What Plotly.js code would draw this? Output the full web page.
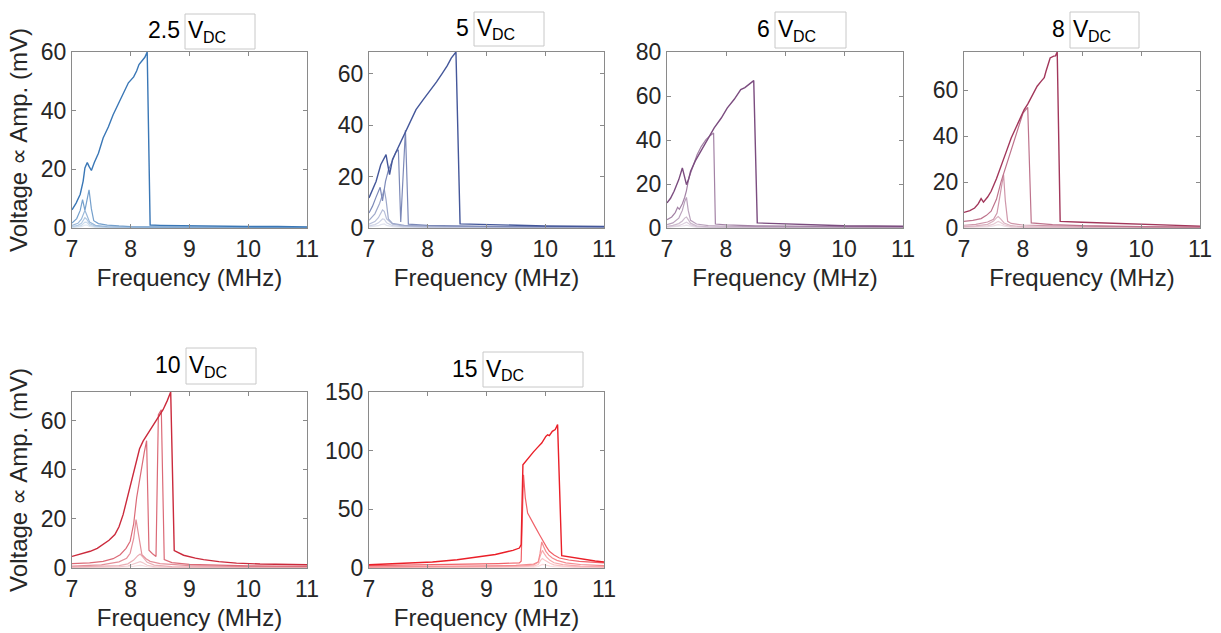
<!DOCTYPE html>
<html>
<head>
<meta charset="utf-8">
<script src="https://cdn.plot.ly/plotly-3.0.1.min.js"></script>
<style>html,body{margin:0;padding:0;background:#fff;}#chart{width:1221px;height:633px;}</style>
</head>
<body>
<div id="chart"></div>
<script>
// ---------- Data ----------
const panelLabels = ["2.5", "5", "6", "8", "10", "15"];
const unitMain = "V";
const unitSub = "DC";
const xTicks = [7, 8, 9, 10, 11];
const yTicks1 = [0, 20, 40, 60];
const yTicks3 = [0, 20, 40, 60, 80];
const yTicks6 = [0, 50, 100, 150];
const yMax = [60, 68.4, 80, 76.7, 71.6, 150];

// 2.5 V_DC
const f25_1 = [7.0, 7.07, 7.14, 7.19, 7.22, 7.26, 7.29, 7.33, 7.38, 7.45, 7.53, 7.62, 7.7, 7.8, 7.88, 7.96, 8.05, 8.1, 8.14, 8.19, 8.24, 8.28, 8.33, 8.5, 9.0, 9.5, 10.0, 10.5, 11.0];
const v25_1 = [6.2, 8.5, 11.5, 16, 20.5, 22.3, 21, 19.6, 22.3, 25.5, 30.7, 34.5, 38.6, 42.8, 46.6, 49.5, 51.5, 53.5, 55.7, 56.8, 58.2, 60, 1.0, 0.9, 0.7, 0.6, 0.5, 0.5, 0.4];
const f25_2 = [7.0, 7.08, 7.14, 7.18, 7.22, 7.26, 7.29, 7.33, 7.37, 7.45, 7.6, 7.8, 8.0, 8.5, 9, 10, 11];
const v25_2 = [1.7, 3.2, 6.0, 9.7, 6.0, 9.5, 13.0, 6.5, 2.5, 1.5, 1.0, 0.7, 0.5, 0.4, 0.3, 0.25, 0.2];
const f25_s = [7.0, 7.1, 7.16, 7.2, 7.22, 7.25, 7.3, 7.4, 7.6, 8.0, 9, 11];
const v25_3 = [0.9, 1.6, 3.0, 5.2, 6.0, 4.5, 2.0, 0.9, 0.5, 0.3, 0.2, 0.15];
const v25_4 = [0.5, 0.9, 1.6, 2.8, 3.5, 3.0, 1.4, 0.6, 0.3, 0.2, 0.15, 0.1];
const v25_5 = [0.3, 0.5, 0.9, 1.5, 2.0, 1.9, 0.9, 0.4, 0.2, 0.1, 0.1, 0.1];
const v25_6 = [0.15, 0.25, 0.45, 0.8, 1.0, 1.0, 0.5, 0.2, 0.1, 0.05, 0.05, 0.05];

// 5 V_DC
const f5_1 = [7.0, 7.06, 7.12, 7.2, 7.25, 7.29, 7.32, 7.35, 7.4, 7.46, 7.52, 7.63, 7.72, 7.8, 7.92, 8.03, 8.15, 8.25, 8.33, 8.4, 8.45, 8.48, 8.55, 9.0, 9.5, 10, 10.5, 11];
const v5_1 = [11.7, 14.8, 18.1, 24.6, 27, 28.5, 24.5, 20.7, 26.6, 29.5, 32.4, 38.2, 42.3, 46, 49.8, 53.1, 56.8, 60.2, 63, 66, 67.3, 68.4, 1.6, 1.3, 1.0, 0.8, 0.7, 0.6];
const f5_2 = [7.0, 7.06, 7.12, 7.19, 7.23, 7.28, 7.33, 7.4, 7.46, 7.5, 7.54, 7.58, 7.62, 7.67, 7.8, 8.0, 8.5, 9, 10, 11];
const v5_2 = [5.8, 8.5, 12, 15.8, 10.5, 18, 22.5, 26.5, 29.5, 30.4, 2.3, 20, 38, 1.5, 1.2, 1.0, 0.8, 0.6, 0.5, 0.4];
const f5_3 = [7.0, 7.1, 7.18, 7.23, 7.26, 7.29, 7.33, 7.4, 7.6, 8.0, 9, 11];
const v5_3 = [3.0, 5.5, 9.5, 12.5, 15, 11, 3.5, 1.8, 1.0, 0.7, 0.5, 0.4];
const f5_s = [7.0, 7.1, 7.16, 7.2, 7.23, 7.26, 7.3, 7.4, 7.6, 8.0, 9, 11];
const v5_4 = [1.5, 2.5, 4.0, 5.8, 7.0, 6.5, 3.5, 1.5, 0.7, 0.4, 0.3, 0.2];
const v5_5 = [0.8, 1.3, 2.0, 2.8, 3.5, 3.4, 2.0, 0.9, 0.4, 0.2, 0.15, 0.1];
const v5_6 = [0.4, 0.6, 0.9, 1.3, 1.6, 1.6, 1.0, 0.5, 0.2, 0.1, 0.1, 0.1];

// 6 V_DC
const f6_1 = [7.0, 7.06, 7.12, 7.2, 7.26, 7.3, 7.33, 7.37, 7.4, 7.48, 7.57, 7.68, 7.8, 7.92, 8.02, 8.14, 8.25, 8.32, 8.39, 8.47, 8.53, 9.0, 9.5, 10, 10.5, 11];
const v6_1 = [11.4, 13.5, 16.7, 22, 27.3, 23.5, 19.7, 22.5, 25.8, 30.5, 34.8, 40.2, 45.5, 50, 54.5, 58.5, 62.9, 63.8, 65.2, 67, 2.3, 1.8, 1.4, 1.0, 0.9, 0.8];
const f6_2 = [7.0, 7.08, 7.14, 7.18, 7.21, 7.26, 7.3, 7.33, 7.37, 7.44, 7.51, 7.58, 7.66, 7.74, 7.79, 7.82, 8.0, 8.5, 9.0, 10, 11];
const v6_2 = [3.8, 5.0, 7.0, 9.4, 8.5, 11, 14, 17, 22.7, 28.5, 33.3, 37, 40.2, 42.2, 43.2, 1.8, 1.4, 1.0, 0.8, 0.6, 0.5];
const f6_s = [7.0, 7.1, 7.2, 7.26, 7.3, 7.33, 7.36, 7.4, 7.5, 7.7, 8, 9, 11];
const v6_3 = [1.5, 2.3, 4.5, 8, 12, 13.9, 8, 3.5, 1.8, 1.1, 0.8, 0.5, 0.4];
const v6_4 = [0.8, 1.2, 2.0, 3.2, 4.5, 5.0, 3.8, 2.2, 1.0, 0.5, 0.3, 0.2, 0.15];
const v6_5 = [0.5, 0.7, 1.1, 1.7, 2.3, 2.6, 2.2, 1.4, 0.6, 0.3, 0.2, 0.1, 0.1];
const v6_6 = [0.3, 0.4, 0.6, 0.9, 1.1, 1.3, 1.1, 0.8, 0.3, 0.15, 0.1, 0.05, 0.05];

// 8 V_DC
const f8_1 = [7.0, 7.1, 7.18, 7.24, 7.29, 7.33, 7.4, 7.46, 7.55, 7.63, 7.72, 7.8, 7.9, 8.02, 8.08, 8.14, 8.19, 8.24, 8.31, 8.36, 8.39, 8.43, 8.46, 8.52, 8.55, 8.58, 8.63, 9.0, 9.5, 10, 10.5, 11];
const v8_1 = [6.8, 7.6, 8.7, 10.5, 12.8, 11.3, 13.5, 16, 21.5, 27.6, 33.5, 39.2, 45, 51.6, 54, 56.7, 59.5, 61.8, 64, 65.5, 68.3, 71.5, 74.1, 74.9, 75, 76.7, 2.9, 2.5, 2.0, 1.5, 1.1, 0.8];
const f8_2 = [7.0, 7.15, 7.29, 7.38, 7.46, 7.55, 7.63, 7.72, 7.8, 7.9, 8.0, 8.08, 8.14, 8.5, 9.0, 10, 11];
const v8_2 = [2.9, 3.3, 4.1, 5.5, 7.3, 12.5, 20.3, 27.5, 33.4, 42, 50.1, 52.6, 2.2, 1.5, 1.0, 0.6, 0.4];
const f8_3 = [7.0, 7.2, 7.4, 7.5, 7.56, 7.61, 7.67, 7.7, 7.74, 7.8, 8.0, 8.5, 9, 10, 11];
const v8_3 = [1.2, 1.6, 2.6, 3.8, 6.5, 14, 23.3, 12, 2.9, 2.0, 1.3, 0.9, 0.7, 0.5, 0.4];
const f8_s = [7.0, 7.2, 7.4, 7.5, 7.55, 7.58, 7.62, 7.68, 7.8, 8.0, 9, 11];
const v8_4 = [0.6, 0.9, 1.6, 3.0, 4.4, 5.0, 4.0, 2.2, 1.0, 0.6, 0.3, 0.2];
const v8_5 = [0.35, 0.5, 0.9, 1.7, 2.5, 2.9, 2.4, 1.4, 0.6, 0.3, 0.15, 0.1];
const v8_6 = [0.2, 0.3, 0.5, 0.9, 1.3, 1.5, 1.3, 0.8, 0.3, 0.15, 0.1, 0.05];

// 10 V_DC
const f10_1 = [7.0, 7.15, 7.31, 7.43, 7.53, 7.63, 7.73, 7.8, 7.87, 7.93, 7.99, 8.05, 8.1, 8.15, 8.21, 8.3, 8.38, 8.47, 8.55, 8.62, 8.68, 8.74, 8.9, 9.1, 9.24, 9.5, 9.8, 10.2, 10.6, 11];
const v10_1 = [4.7, 5.6, 6.8, 8.0, 9.5, 11.3, 13.6, 16.8, 21.7, 27.5, 33.9, 40, 44.8, 48.5, 51.6, 55, 58.3, 61.3, 64.4, 68, 71.6, 7.1, 5.2, 4.0, 3.4, 2.6, 2.0, 1.6, 1.4, 1.3];
const f10_2 = [7.0, 7.3, 7.53, 7.7, 7.82, 7.92, 7.99, 8.05, 8.1, 8.15, 8.19, 8.23, 8.27, 8.31, 8.37, 8.43, 8.47, 8.52, 8.57, 8.7, 9.0, 9.5, 10, 10.5, 11];
const v10_2 = [1.8, 2.1, 2.7, 3.8, 5.4, 8, 10.9, 18, 28.5, 36, 42, 47, 51.8, 7.2, 5.8, 4.7, 62.4, 64.4, 3.4, 2.2, 1.5, 1.1, 0.9, 0.8, 0.7];
const f10_3 = [7.0, 7.5, 7.8, 7.93, 7.99, 8.05, 8.09, 8.13, 8.19, 8.26, 8.33, 8.5, 9, 10, 11];
const v10_3 = [0.8, 1.3, 2.5, 4.0, 6, 12, 19.7, 14, 5.4, 3.8, 2.7, 1.8, 1.0, 0.6, 0.5];
const f10_s = [7.0, 7.5, 7.8, 7.95, 8.05, 8.12, 8.16, 8.2, 8.28, 8.4, 8.7, 9.5, 11];
const v10_4 = [0.4, 0.6, 1.0, 1.7, 3.2, 5.0, 5.7, 4.6, 2.3, 1.2, 0.6, 0.35, 0.25];
const v10_5 = [0.2, 0.3, 0.5, 0.8, 1.6, 2.4, 2.6, 2.2, 1.1, 0.6, 0.3, 0.15, 0.1];
const v10_6 = [0.1, 0.15, 0.25, 0.4, 0.7, 1.0, 1.1, 0.95, 0.5, 0.25, 0.12, 0.06, 0.05];

// 15 V_DC
const f15_1 = [7.0, 7.5, 8.08, 8.5, 8.94, 9.15, 9.33, 9.45, 9.56, 9.59, 9.62, 9.68, 9.73, 9.8, 9.87, 9.94, 10.01, 10.04, 10.07, 10.12, 10.17, 10.21, 10.28, 10.4, 10.64, 10.85, 11];
const v15_1 = [2.8, 3.6, 5.1, 7.0, 9.9, 11.5, 13.6, 15, 17, 20, 88, 92, 95.2, 99, 102.8, 106.5, 112.2, 113.5, 112.8, 116.5, 118, 122.2, 10.5, 9.5, 7.1, 6.0, 5.1];
const f15_2 = [7.0, 8.0, 8.65, 9.2, 9.56, 9.59, 9.63, 9.66, 9.7, 9.77, 9.84, 9.9, 9.96, 10.02, 10.07, 10.15, 10.24, 10.4, 10.58, 10.8, 11];
const v15_2 = [2.0, 2.6, 3.2, 3.8, 4.3, 5.7, 79.5, 60, 46.9, 41, 34, 28.5, 22.7, 18, 14.2, 11, 8.5, 6.8, 5.7, 4.8, 4.3];
const f15_3 = [7.0, 8.5, 9.5, 9.8, 9.88, 9.91, 9.94, 9.97, 10.01, 10.06, 10.12, 10.2, 10.35, 10.6, 11];
const v15_3 = [1.0, 1.4, 2.2, 3.3, 5, 12, 22.2, 18.5, 14.2, 11, 8.5, 6.5, 4.3, 3.0, 2.0];
const f15_s = [7.0, 8.5, 9.5, 9.8, 9.88, 9.92, 9.95, 9.98, 10.02, 10.08, 10.15, 10.3, 10.6, 11];
const v15_4 = [0.6, 0.9, 1.5, 2.5, 5, 11, 15, 12.5, 9.5, 6.5, 4.5, 2.8, 1.6, 1.1];
const v15_5 = [0.4, 0.5, 0.9, 1.5, 3, 6.5, 8, 7, 5.5, 4, 2.7, 1.6, 0.9, 0.6];
const v15_6 = [0.2, 0.25, 0.4, 0.7, 1.3, 2.5, 3, 2.8, 2.2, 1.6, 1.1, 0.7, 0.4, 0.3];

// ---------- Build figure ----------
const W = 1221, H = 633;
const baseColors = ["#3a77b6", "#44579a", "#7b4c7f", "#a2375b", "#cb2a3c", "#ea1f28"];
const mixes = [0, 0.3, 0.48, 0.62, 0.74, 0.84];
function mixWhite(hex, t) {
  const r = parseInt(hex.slice(1,3),16), g = parseInt(hex.slice(3,5),16), b = parseInt(hex.slice(5,7),16);
  const m = c => Math.round(c + (255 - c) * t);
  return `rgb(${m(r)},${m(g)},${m(b)})`;
}

const panelCurves = [
  [[f25_1, v25_1], [f25_2, v25_2], [f25_s, v25_3], [f25_s, v25_4], [f25_s, v25_5], [f25_s, v25_6]],
  [[f5_1, v5_1], [f5_2, v5_2], [f5_3, v5_3], [f5_s, v5_4], [f5_s, v5_5], [f5_s, v5_6]],
  [[f6_1, v6_1], [f6_2, v6_2], [f6_s, v6_3], [f6_s, v6_4], [f6_s, v6_5], [f6_s, v6_6]],
  [[f8_1, v8_1], [f8_2, v8_2], [f8_3, v8_3], [f8_s, v8_4], [f8_s, v8_5], [f8_s, v8_6]],
  [[f10_1, v10_1], [f10_2, v10_2], [f10_3, v10_3], [f10_s, v10_4], [f10_s, v10_5], [f10_s, v10_6]],
  [[f15_1, v15_1], [f15_2, v15_2], [f15_3, v15_3], [f15_s, v15_4], [f15_s, v15_5], [f15_s, v15_6]]
];
const yTickSets = [yTicks1, yTicks1, yTicks3, yTicks1, yTicks1, yTicks6];

// pixel boxes of each plot area
const boxes = [
  {l: 72, r: 307, t: 52, b: 228},
  {l: 369, r: 604, t: 52, b: 228},
  {l: 667, r: 903, t: 52, b: 228},
  {l: 964, r: 1200, t: 52, b: 228},
  {l: 72, r: 307, t: 392, b: 568},
  {l: 369, r: 604, t: 392, b: 568}
];
// title boxes [left, right, top, bottom] in px
const tBoxes = [
  [185, 255, 14, 49], [474, 544, 12, 46], [775, 846, 12, 48],
  [1070, 1139, 12, 48], [186, 256, 348, 384], [483, 583, 352, 387]
];

const FONT = "Liberation Sans, Arial, Helvetica, sans-serif";
const traces = [];
const layout = {
  width: W, height: H,
  margin: {l: 0, r: 0, t: 0, b: 0},
  paper_bgcolor: "#fff", plot_bgcolor: "#fff",
  showlegend: false,
  font: {family: FONT, color: "#262626", size: 23},
  annotations: [], shapes: []
};

panelCurves.forEach((curves, i) => {
  const k = i === 0 ? "" : String(i + 1);
  for (let c = curves.length - 1; c >= 0; c--) {
    traces.push({
      x: curves[c][0], y: curves[c][1],
      xaxis: "x" + k, yaxis: "y" + k,
      type: "scatter", mode: "lines",
      line: {color: mixWhite(baseColors[i], mixes[c]), width: c === 0 ? 1.4 : 1.2},
      hoverinfo: "skip"
    });
  }
  const bx = boxes[i];
  const axCommon = {
    showline: true, mirror: "ticks", linecolor: "#8a8a8a", linewidth: 1,
    ticks: "inside", ticklen: 4, tickcolor: "#8a8a8a", tickwidth: 1,
    showgrid: false, zeroline: false, fixedrange: true,
    tickfont: {size: 23, family: FONT, color: "#262626"}
  };
  layout["xaxis" + k] = Object.assign({}, axCommon, {
    domain: [bx.l / W, bx.r / W], range: [7, 11],
    tickvals: xTicks, ticktext: xTicks.map(String),
    anchor: "y" + k,
    title: {text: "Frequency (MHz)", font: {size: 24, family: FONT, color: "#262626"}, standoff: 8}
  });
  const yax = Object.assign({}, axCommon, {
    domain: [1 - bx.b / H, 1 - bx.t / H], range: [0, yMax[i]],
    tickvals: yTickSets[i], ticktext: yTickSets[i].map(String),
    anchor: "x" + k
  });
  if (i === 0 || i === 4) {
    yax.title = {text: "Voltage \u221d Amp. (mV)", font: {size: 24, family: FONT, color: "#262626"}, standoff: 6};
  }
  layout["yaxis" + k] = yax;

  const tb = tBoxes[i];
  const midY = (tb[2] + tb[3]) / 2;
  layout.shapes.push({
    type: "rect", xref: "paper", yref: "paper",
    x0: tb[0] / W, x1: tb[1] / W, y0: 1 - tb[3] / H, y1: 1 - tb[2] / H,
    line: {color: "#c8c8c8", width: 1}, fillcolor: "rgba(0,0,0,0)"
  });
  layout.annotations.push({
    xref: "paper", yref: "paper",
    x: (tb[0] - 3) / W, y: 1 - (midY - 1) / H,
    xanchor: "right", yanchor: "middle",
    text: panelLabels[i], showarrow: false,
    font: {size: 23, family: FONT, color: "#000"}
  });
  layout.annotations.push({
    xref: "paper", yref: "paper",
    x: (tb[0] + 1) / W, y: 1 - (midY - 1) / H,
    xanchor: "left", yanchor: "middle",
    text: unitMain, showarrow: false,
    font: {size: 23, family: FONT, color: "#000"}
  });
  layout.annotations.push({
    xref: "paper", yref: "paper",
    x: (tb[0] + 16) / W, y: 1 - (midY + 6) / H,
    xanchor: "left", yanchor: "middle",
    text: unitSub, showarrow: false,
    font: {size: 16, family: FONT, color: "#000"}
  });
});

Plotly.newPlot("chart", traces, layout, {staticPlot: true, displayModeBar: false});
</script>
</body>
</html>
